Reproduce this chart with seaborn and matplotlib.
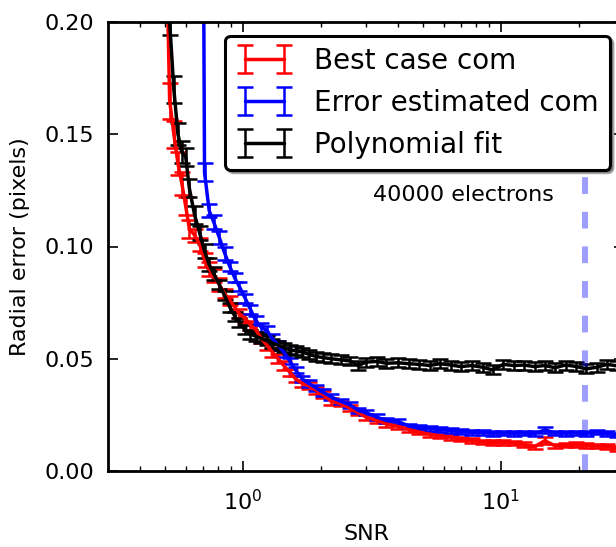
import numpy as np
import matplotlib
matplotlib.use("Agg")
import matplotlib.pyplot as plt
import seaborn as sns

# SNR values shared by all three series
snr = [0.50, 0.52, 0.54, 0.56, 0.58, 0.60, 0.62, 0.65, 0.68, 0.71, 0.74, 0.77,
       0.81, 0.85, 0.89, 0.93, 0.97, 1.02, 1.07, 1.12, 1.18, 1.24, 1.30, 1.37,
       1.44, 1.52, 1.60, 1.70, 1.80, 1.92, 2.05, 2.2, 2.4, 2.6, 2.8, 3.0, 3.3,
       3.6, 4.0, 4.4, 4.8, 5.3, 5.8, 6.4, 7.0, 7.7, 8.5, 9.3, 10.2, 11.2, 12.3,
       13.5, 14.8, 16.2, 17.8, 19.5, 21.4, 23.5, 25.8, 28.3, 31.0]

best_case = [0.26, 0.165, 0.150, 0.137, 0.128, 0.118, 0.108, 0.105, 0.101, 0.094,
             0.090, 0.087, 0.083, 0.079, 0.076, 0.073, 0.070, 0.068, 0.065, 0.063,
             0.059, 0.056, 0.053, 0.050, 0.047, 0.044, 0.041, 0.039, 0.038, 0.036,
             0.034, 0.031, 0.030, 0.028, 0.026, 0.024, 0.0225, 0.021, 0.0198, 0.0185,
             0.0174, 0.0163, 0.0157, 0.0150, 0.0142, 0.0136, 0.0130, 0.0126, 0.0127,
             0.0124, 0.0118, 0.0108, 0.0135, 0.0112, 0.0115, 0.0117, 0.0114, 0.0112,
             0.0110, 0.0100, 0.0098]
best_err = [0.010, 0.008, 0.006, 0.005, 0.005, 0.004, 0.004, 0.003, 0.003, 0.003,
            0.003, 0.003, 0.003, 0.002, 0.002, 0.002, 0.002, 0.002, 0.002, 0.002,
            0.002, 0.002, 0.002, 0.002, 0.002, 0.0015, 0.0015, 0.0015, 0.0015, 0.0015,
            0.0015, 0.0015, 0.0012, 0.0012, 0.0012, 0.0012, 0.0012, 0.0012, 0.001, 0.001,
            0.001, 0.001, 0.001, 0.001, 0.001, 0.001, 0.001, 0.001, 0.001, 0.001,
            0.001, 0.001, 0.0015, 0.001, 0.001, 0.001, 0.001, 0.001, 0.001, 0.001,
            0.001]

err_est = [3.0, 2.5, 2.0, 1.6, 1.3, 1.1, 0.9, 0.75, 0.6, 0.133, 0.116, 0.111,
           0.104, 0.097, 0.091, 0.086, 0.082, 0.077, 0.072, 0.067, 0.064, 0.0625,
           0.059, 0.056, 0.053, 0.049, 0.045, 0.041, 0.039, 0.037, 0.035, 0.033,
           0.031, 0.0294, 0.027, 0.026, 0.024, 0.0225, 0.022, 0.020, 0.0195, 0.0190,
           0.0185, 0.0180, 0.0176, 0.0172, 0.0172, 0.0168, 0.0170, 0.0168, 0.0170,
           0.0166, 0.0183, 0.0170, 0.0168, 0.0170, 0.0167, 0.0174, 0.0168, 0.0160,
           0.0160]
err_est_err = [0.05, 0.05, 0.05, 0.05, 0.05, 0.05, 0.05, 0.05, 0.05, 0.004, 0.003,
               0.003, 0.003, 0.003, 0.002, 0.002, 0.002, 0.002, 0.002, 0.002, 0.002,
               0.002, 0.002, 0.002, 0.002, 0.0015, 0.0015, 0.0015, 0.0015, 0.0015,
               0.0015, 0.0012, 0.0012, 0.0012, 0.0012, 0.0012, 0.0012, 0.001, 0.001,
               0.001, 0.001, 0.001, 0.001, 0.001, 0.001, 0.001, 0.001, 0.001, 0.001,
               0.001, 0.001, 0.001, 0.0015, 0.001, 0.001, 0.001, 0.001, 0.001, 0.001,
               0.001, 0.001]

poly_fit = [0.23, 0.20, 0.17, 0.15, 0.142, 0.140, 0.126, 0.114, 0.106, 0.098,
            0.092, 0.088, 0.083, 0.078, 0.073, 0.069, 0.066, 0.063, 0.061, 0.060,
            0.059, 0.058, 0.057, 0.056, 0.055, 0.054, 0.0535, 0.053, 0.052, 0.051,
            0.0505, 0.050, 0.0495, 0.0490, 0.0470, 0.0485, 0.0488, 0.0480, 0.0482,
            0.0478, 0.0475, 0.0470, 0.0478, 0.0472, 0.0465, 0.0470, 0.0462, 0.0450,
            0.0475, 0.0470, 0.0472, 0.0465, 0.0470, 0.0460, 0.0472, 0.0466, 0.0455,
            0.0462, 0.0475, 0.0468, 0.0470]
poly_err = [0.008, 0.006, 0.006, 0.005, 0.005, 0.004, 0.004, 0.004, 0.003, 0.003,
            0.003, 0.003, 0.002, 0.002, 0.002, 0.002, 0.002, 0.002, 0.002, 0.002,
            0.002, 0.002, 0.002, 0.002, 0.002, 0.002, 0.002, 0.002, 0.002, 0.002,
            0.002, 0.002, 0.002, 0.002, 0.002, 0.002, 0.002, 0.002, 0.002, 0.002,
            0.002, 0.002, 0.002, 0.002, 0.002, 0.002, 0.002, 0.002, 0.002, 0.002,
            0.002, 0.002, 0.002, 0.002, 0.002, 0.002, 0.002, 0.002, 0.002, 0.002,
            0.002]

electron_snr = 21.2

sns.set_style("ticks")
plt.rcParams['font.family'] = ['DejaVu Sans']
plt.rcParams['mathtext.fontset'] = 'dejavusans'
plt.rcParams['xtick.direction'] = 'in'
plt.rcParams['ytick.direction'] = 'in'
plt.rcParams['xtick.top'] = True
plt.rcParams['ytick.right'] = True
for key in ['text.color', 'axes.labelcolor', 'xtick.color', 'ytick.color',
            'axes.edgecolor']:
    plt.rcParams[key] = 'black'

fig = plt.figure(figsize=(6.16, 5.47), dpi=100)
ax = fig.add_axes([108 / 616, 76 / 547, 516 / 616, 449 / 547])

series = [
    (best_case, best_err, 'red', 'Best case com'),
    (err_est, err_est_err, 'blue', 'Error estimated com'),
    (poly_fit, poly_err, 'black', 'Polynomial fit'),
]
for vals, errs, col, lab in series:
    ax.errorbar(snr, vals, yerr=errs, color=col, lw=2.5, elinewidth=1.8,
                capsize=5.5, capthick=1.8, label=lab)

ax.axvline(electron_snr, color='blue', alpha=0.38, lw=4.3, ls=(0, (2.8, 3)))
ax.text(16.0, 0.123, '40000 electrons', ha='right', va='center', fontsize=16)

ax.set_xscale('log')
ax.set_xlim(0.3, 30)
ax.set_ylim(0, 0.2)
ax.set_yticks([0.0, 0.05, 0.10, 0.15, 0.20])
ax.set_yticklabels(['0.00', '0.05', '0.10', '0.15', '0.20'])
ax.set_xlabel('SNR', fontsize=16, labelpad=7)
ax.set_ylabel('Radial error (pixels)', fontsize=16, labelpad=10)
ax.tick_params(which='major', length=7, width=1.2, labelsize=16)
ax.tick_params(axis='x', which='major', pad=13)
ax.tick_params(axis='y', which='major', pad=10)
ax.tick_params(which='minor', length=3.5, width=1.0)
for sp in ax.spines.values():
    sp.set_linewidth(2)
    sp.set_color('black')

leg = ax.legend(loc='upper right', fontsize=20, numpoints=2, fancybox=True,
                shadow=True, framealpha=1, edgecolor='black',
                handlelength=2.0, labelspacing=0.5, borderpad=0.4)
leg.get_frame().set_linewidth(2.2)

fig.savefig('out.png', dpi=100)
